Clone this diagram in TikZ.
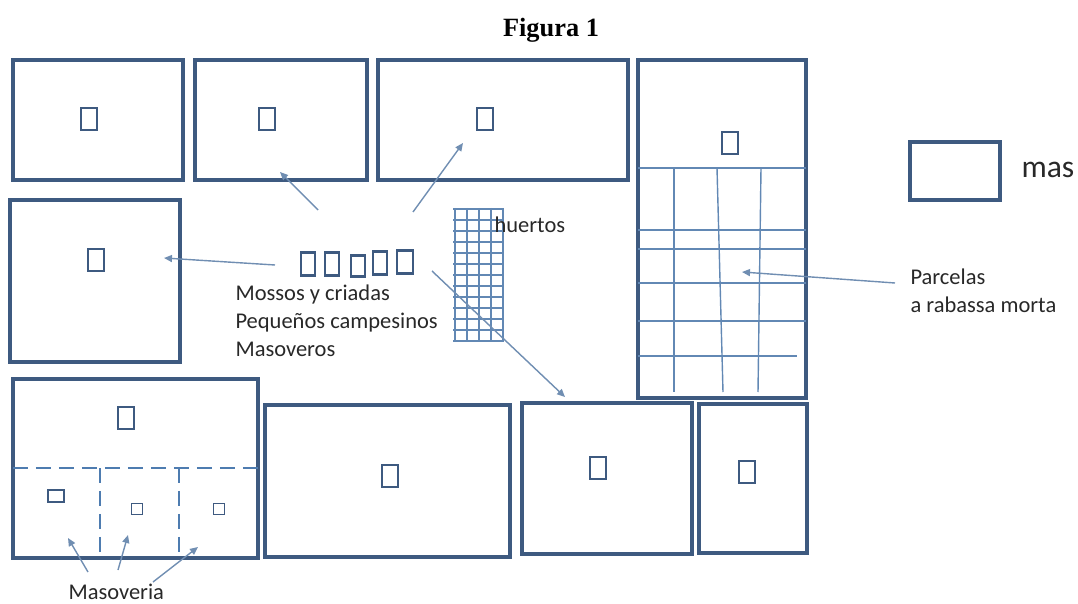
\documentclass[tikz,border=0pt]{standalone}
\usepackage{fontspec}
\setmainfont{Carlito}
\newfontfamily\titulo{Liberation Serif}
\usetikzlibrary{arrows.meta,positioning}
\definecolor{marco}{RGB}{62,90,128}
\definecolor{flechacol}{RGB}{112,142,178}
\definecolor{rejilla}{RGB}{98,136,180}
\definecolor{discont}{RGB}{78,124,176}
\definecolor{textocol}{RGB}{40,40,40}

\begin{document}
\begin{tikzpicture}[x=0.02cm, y=-0.02cm, font=\fontsize{12.8}{15}\selectfont, line width=0.6pt,
  finca/.style={draw=marco, line width=2pt},
  casa/.style={draw=marco, line width=1.2pt, minimum width=0.32cm, minimum height=0.44cm, inner sep=0pt},
  casita/.style={draw=marco, line width=1.2pt, minimum width=0.28cm, minimum height=0.46cm, inner sep=0pt},
  masia/.style={draw=marco, line width=1.1pt, minimum size=0.22cm, inner sep=0pt},
  flecha/.style={draw=flechacol, line width=0.8pt, -{Triangle[length=1.6mm,width=1.4mm]}},
  linea/.style={draw=rejilla, line width=0.8pt},
  corte/.style={draw=discont, line width=1.7pt, dash pattern=on 0.3cm off 0.16cm},
  etiqueta/.style={text=textocol, inner sep=0pt, anchor=base west}]
\useasboundingbox (0,0) rectangle (1078,604);

\node[font=\titulo\bfseries\fontsize{15}{18}\selectfont, anchor=base] (titulo) at (551,37) {Figura 1};

% fincas
\draw[finca] (13,60) rectangle (183,180);
\draw[finca] (195,60) rectangle (367,180);
\draw[finca] (378,60) rectangle (628,180);
\draw[finca] (638,60) rectangle (806,398);
\draw[finca] (10,200) rectangle (180,362);
\draw[finca] (13,379) rectangle (258,558);
\draw[finca] (265,405) rectangle (510,557);
\draw[finca] (522,403) rectangle (692,554);
\draw[finca] (699,404) rectangle (807,553);

% mas de cada finca
\node[casa] (casaA) at (89,119) {};
\node[casa] (casaB) at (267,119) {};
\node[casa] (casaC) at (485,119) {};
\node[casa] (casaD) at (730,143) {};
\node[casa] (casaE) at (96,260) {};
\node[casa] (casaF) at (126,418) {};
\node[casa] (casaG) at (390,476) {};
\node[casa] (casaH) at (598,468) {};
\node[casa] (casaI) at (747,472) {};

% parcelas a rabassa morta
\draw[linea] (638,168) -- (806,168);
\foreach \y in {230,249,283,321}{ \draw[linea] (638,\y) -- (806,\y); }
\draw[linea] (638,356) -- (797,356);
\draw[linea] (674,168) -- (674,392);
\draw[linea] (717,168) -- (723,392);
\draw[linea] (761,168) -- (758,392);

% huertos
\foreach \x in {455,467,479,491,503}{ \draw[linea, line width=0.7pt] (\x,208) -- (\x,342); }
\foreach \k in {0,...,12}{ \draw[linea, line width=0.7pt] (453,209+11*\k) -- (503,209+11*\k); }

% masoveria
\draw[corte] (13,468) -- (258,468);
\draw[corte] (100,468) -- (100,558);
\draw[corte] (179,468) -- (179,558);
\node[draw=marco, line width=1.1pt, minimum width=0.32cm, minimum height=0.25cm, inner sep=0pt] (masF1) at (56,496) {};
\node[masia] (masF2) at (137,509) {};
\node[masia] (masF3) at (219,509) {};

% casas del pueblo
\node[casita] (pueblo1) at (308,264) {};
\node[casita] (pueblo2) at (332,264) {};
\node[casita, minimum height=0.42cm] (pueblo3) at (358,266) {};
\node[casita] (pueblo4) at (380,263) {};
\node[casita, minimum width=0.31cm] (pueblo5) at (405,262) {};

% textos
\node[etiqueta] (mossos) at (235,301) {Mossos y criadas};
\node[etiqueta] (pequenos) at (235,329) {Pequeños campesinos};
\node[etiqueta] (masoveros) at (235,357) {Masoveros};
\node[etiqueta] (huertos) at (494,233) {huertos};
\node[etiqueta] (parcelas) at (910,285) {Parcelas};
\node[etiqueta] (rabassa) at (910,313) {a rabassa morta};
\node[etiqueta] (masoveria) at (68,599) {Masoveria};
\node[finca, minimum width=1.8cm, minimum height=1.16cm, inner sep=0pt] (leyenda) at (955,171) {};
\node[etiqueta, font=\fontsize{18}{21}\selectfont] (mas) at (1021,178) {mas};

% flechas
\coordinate (sB) at (318,210); \coordinate (fB) at (280,172);
\coordinate (sC) at (413,212); \coordinate (fC) at (463,143);
\coordinate (sE) at (275,265); \coordinate (fE) at (164,258);
\coordinate (sH) at (432,271); \coordinate (fH) at (565,397);
\coordinate (sD) at (895,283); \coordinate (fD) at (742,272);
\draw[flecha] (sB) -- (fB);
\draw[flecha] (sC) -- (fC);
\draw[flecha] (sE) -- (fE);
\draw[flecha] (sH) -- (fH);
\draw[flecha] (sD) -- (fD);
\coordinate (m1) at (88,572); \coordinate (m2) at (118,570); \coordinate (m3) at (153,582);
\draw[flecha] (m1) -- (68,538);
\draw[flecha] (m2) -- (128,535);
\draw[flecha] (m3) -- (198,547);
\end{tikzpicture}
\end{document}
